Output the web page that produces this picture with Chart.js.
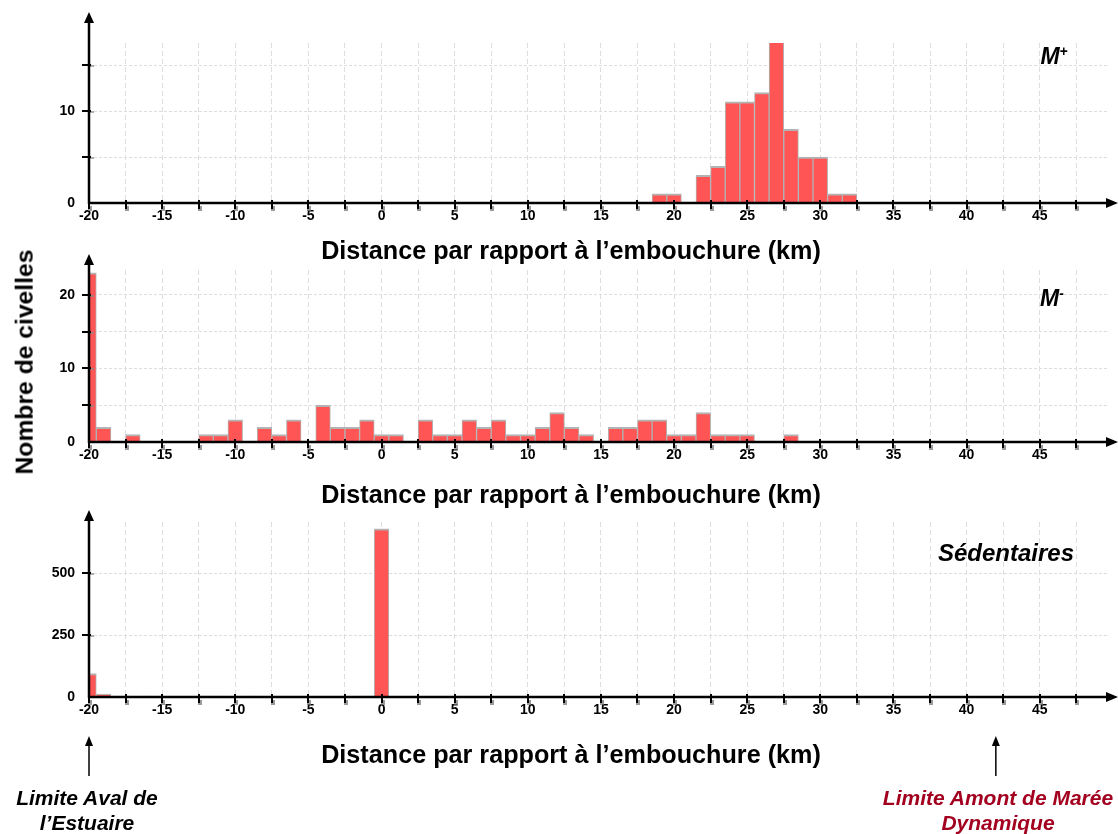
<!DOCTYPE html>
<html><head><meta charset="utf-8">
<script src="https://cdn.jsdelivr.net/npm/chart.js@4.4.1/dist/chart.umd.min.js"></script>
<style>
body{margin:0;background:#fff;width:1118px;height:834px;position:relative;overflow:hidden;font-family:"Liberation Sans",Arial,sans-serif;}
canvas{position:absolute;left:0;}
.t{position:absolute;transform:translate(-50%,-50%);white-space:nowrap;font-weight:bold;color:#000;line-height:1;}
.it{font-style:italic;}
sup{font-size:60%;vertical-align:0;position:relative;top:-0.55em;}
</style></head><body>
<canvas id="c1" width="1118" height="240" style="top:0px"></canvas>
<canvas id="c2" width="1118" height="240" style="top:240px"></canvas>
<canvas id="c3" width="1118" height="300" style="top:490px"></canvas>

<div class="t" style="left:571px;top:251px;font-size:25.2px">Distance par rapport à l’embouchure (km)</div>
<div class="t" style="left:571px;top:495px;font-size:25.2px">Distance par rapport à l’embouchure (km)</div>
<div class="t" style="left:571px;top:755px;font-size:25.2px">Distance par rapport à l’embouchure (km)</div>
<div class="t it" style="left:1054px;top:56px;font-size:23px">M<sup>+</sup></div>
<div class="t it" style="left:1052px;top:298px;font-size:23px">M<sup>-</sup></div>
<div class="t it" style="left:1006px;top:553px;font-size:24px">Sédentaires</div>
<div class="t" style="left:25px;top:362px;font-size:24.7px;transform:translate(-50%,-50%) rotate(-90deg)">Nombre de civelles</div>
<div class="t it" style="left:87px;top:797px;font-size:21px">Limite Aval de</div>
<div class="t it" style="left:87px;top:822px;font-size:21px">l’Estuaire</div>
<div class="t it" style="left:998px;top:797px;font-size:21px;color:#a3001f">Limite Amont de Marée</div>
<div class="t it" style="left:998px;top:822px;font-size:21px;color:#a3001f">Dynamique</div>

<script>
// ---- data (km bins, counts) ----
const binsTop = [19,20,21,22,23,24,25,26,27,28,29,30,31,32];
const countsTop = [1,1,0,3,4,11,11,12,18,8,5,5,1,1];

const binsMid = [-20,-19,-18,-17,-16,-15,-14,-13,-12,-11,-10,-9,-8,-7,-6,-5,-4,-3,-2,-1,0,1,2,3,4,5,6,7,8,9,10,11,12,13,14,15,16,17,18,19,20,21,22,23,24,25,26,27,28];
const countsMid = [23,2,0,1,0,0,0,0,1,1,3,0,2,1,3,0,5,2,2,3,1,1,0,3,1,1,3,2,3,1,1,2,4,2,1,0,2,2,3,3,1,1,4,1,1,1,0,0,1];

const binsBot = [-20,-19,-18,-17,-16,-15,-14,-13,-12,-11,-10,-9,-8,-7,-6,-5,-4,-3,-2,-1,0];
const countsBot = [95,12,4,0,4,0,0,0,4,4,0,4,0,4,0,0,0,0,0,4,680];

const xTicks = [-20,-17.5,-15,-12.5,-10,-7.5,-5,-2.5,0,2.5,5,7.5,10,12.5,15,17.5,20,22.5,25,27.5,30,32.5,35,37.5,40,42.5,45,47.5];
const yTicksTop = [0,5,10,15];
const yTicksMid = [0,5,10,15,20];
const yTicksBot = [0,250,500];
const markerKm = [-20, 42];

const FONT = {family:'"Liberation Sans", Arial, sans-serif', size:14, weight:'bold'};
const GRID = '#dedede';

const axesPlugin = {
  id:'axes',
  afterDatasetsDraw(chart, args, o){
    const {ctx, chartArea:a} = chart;
    const x = chart.scales.x, y = chart.scales.y;
    ctx.save();
    // x tick marks with shadow
    x.ticks.forEach(t=>{
      const px = Math.round(x.getPixelForValue(t.value));
      ctx.fillStyle='rgba(120,120,120,0.75)';
      ctx.fillRect(px-1, a.bottom+3, 4, 5);
      ctx.fillStyle='#000';
      ctx.fillRect(px-1, a.bottom-3, 2, 9);
    });
    // y tick marks
    y.ticks.forEach(t=>{
      if (t.value===0) return;
      const py = Math.round(y.getPixelForValue(t.value));
      ctx.fillStyle='rgba(140,140,140,0.7)';
      ctx.fillRect(a.left, py, 5, 2);
      ctx.fillStyle='#000';
      ctx.fillRect(a.left-7, py-1, 9, 2);
    });
    ctx.strokeStyle='#000'; ctx.fillStyle='#000'; ctx.lineWidth=2.5;
    // x axis
    ctx.beginPath(); ctx.moveTo(a.left-1, a.bottom); ctx.lineTo(1110, a.bottom); ctx.stroke();
    ctx.beginPath(); ctx.moveTo(1118, a.bottom); ctx.lineTo(1106, a.bottom-5); ctx.lineTo(1106, a.bottom+5); ctx.closePath(); ctx.fill();
    // y axis
    const tip = a.top - o.yExt;
    ctx.beginPath(); ctx.moveTo(a.left, a.bottom+1); ctx.lineTo(a.left, tip+8); ctx.stroke();
    ctx.beginPath(); ctx.moveTo(a.left, tip); ctx.lineTo(a.left-5, tip+11); ctx.lineTo(a.left+5, tip+11); ctx.closePath(); ctx.fill();
    // markers
    if (o.markers){
      ctx.lineWidth=1.5;
      o.markers.forEach(v=>{
        const px = x.getPixelForValue(v);
        ctx.beginPath(); ctx.moveTo(px, o.mBottom); ctx.lineTo(px, o.mTop+8); ctx.stroke();
        ctx.beginPath(); ctx.moveTo(px, o.mTop); ctx.lineTo(px-4, o.mTop+10); ctx.lineTo(px+4, o.mTop+10); ctx.closePath(); ctx.fill();
      });
    }
    ctx.restore();
  }
};

function makeChart(id, bins, counts, yMax, yTicks, labelEvery, pad, plug){
  return new Chart(document.getElementById(id), {
    type:'bar',
    data:{ datasets:[{
      data: bins.map((b,i)=>({x:b, y:counts[i]})),
      backgroundColor:'#ff5555',
      borderColor:'#b3b3b3',
      borderWidth:{top:2,left:1,right:1,bottom:0},
      borderSkipped:false,
      categoryPercentage:1, barPercentage:1
    }]},
    options:{
      responsive:false, animation:false,
      layout:{padding:pad},
      plugins:{legend:{display:false}, tooltip:{enabled:false}, axes:plug},
      scales:{
        x:{ type:'linear', min:-20, max:49.6, offset:false,
            grid:{offset:false, color:GRID, lineWidth:1, drawTicks:false},
            border:{display:false, dash:[5,3]},
            afterBuildTicks: s=>{ s.ticks = xTicks.map(v=>({value:v})); },
            afterFit: s=>{ s.height = 30; },
            ticks:{ autoSkip:false, maxRotation:0, padding:5, color:'#000', font:FONT,
                    callback: v => (v%5===0 ? String(v) : '') } },
        y:{ min:0, max:yMax,
            grid:{color:GRID, lineWidth:1, drawTicks:false},
            border:{display:false, dash:[3,2]},
            afterBuildTicks: s=>{ s.ticks = yTicks.map(v=>({value:v})); },
            afterFit: s=>{ s.width = 89; },
            ticks:{ padding:14, color:'#000', font:FONT,
                    callback: v => (v%labelEvery===0 ? String(v) : '') } }
      }
    },
    plugins:[axesPlugin]
  });
}

makeChart('c1', binsTop, countsTop, 17.4, yTicksTop, 10, {top:43,right:11,bottom:7,left:0}, {yExt:31});
makeChart('c2', binsMid, countsMid, 23.4, yTicksMid, 10, {top:30,right:11,bottom:8,left:0}, {yExt:16});
makeChart('c3', binsBot, countsBot, 708, yTicksBot, 250, {top:32,right:11,bottom:63,left:0}, {yExt:12, markers:markerKm, mTop:246, mBottom:286});
</script>
</body></html>
